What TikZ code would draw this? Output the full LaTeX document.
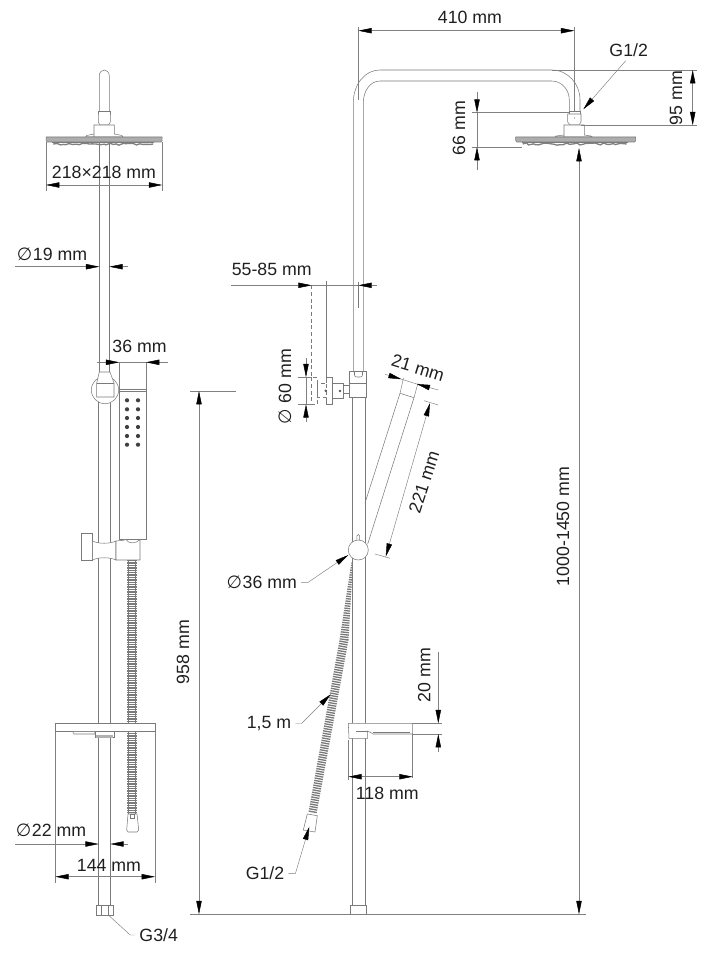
\documentclass[tikz,border=0pt]{standalone}
\usepackage{fontspec}
\setmainfont{Liberation Sans}
\newfontfamily\symfont{DejaVu Sans}
\usetikzlibrary{arrows.meta,decorations.pathmorphing}
\def\dia{{\symfont\char"2205\kern0.5pt}}
\def\rainhead(#1,#2,#3){
	\begin{scope}[shift={(#1,#2)}]
		\draw[part,fill=black!32] (-#3,0) -- (#3,0) -- (#3,3.5) -- (#3-1,5) -- (-#3+1,5) -- (-#3,3.5) -- cycle;
		\draw[nozzle] (-#3+7,7) -- (#3-9,7);
		\draw[thinpart] (-#3+6,5.5) -- (#3-8,5.5);
	\end{scope}
}
\tikzset{
	part/.style={draw=black!52, fill=white, line width=0.4pt},
	thinpart/.style={draw=black!52, line width=0.4pt},
	dimline/.style={draw=black!50, line width=0.35pt},
	dimarrow/.style={dimline, {Triangle[black,length=10pt,width=4pt]}-{Triangle[black,length=10pt,width=4pt]}},
	endarrow/.style={dimline, -{Triangle[black,length=10pt,width=4pt]}},
	lbl/.style={text=black!88, inner sep=3pt, font=\fontsize{13.3}{15}\selectfont},
	nozzle/.style={draw=black!50, line width=1pt, decorate, decoration={random steps,segment length=2.5pt,amplitude=0.9pt}},
	hose/.style={draw=black!52, line width=7pt, dash pattern=on 1pt off 0.8pt},
}
\begin{document}
\begin{tikzpicture}[x=0.75pt,y=-0.75pt]
		\useasboundingbox (0,0) rectangle (715,955);
		%%%%% LEFT VIEW %%%%%
		
		% rail and shower arm
		\draw[part] (99.3,113) -- (99.3,76) .. controls (99.3,72) and (102,70) .. (104.3,70) .. controls (106.6,70) and (109.3,72) .. (109.3,76) -- (109.3,113);
		\draw[part] (98.3,111) rectangle (110.3,114);
		\draw[part] (98.3,114) -- (98.3,122) -- (100,125) -- (108.5,125) -- (110.3,122) -- (110.3,114);
		\draw[part] (94,137) -- (94,125) -- (114.3,125) -- (114.3,134) -- (122,135.5) -- (123,137) -- (85.7,137) -- (86.7,135.5) -- (94,134);
		\draw[thinpart] (99.3,142) -- (99.3,372);
		\draw[thinpart] (109.3,142) -- (109.3,372);
		\rainhead(104.2,137,58)
		\draw[thinpart] (98.5,397) -- (98.5,723);
		\draw[thinpart] (110.7,397) -- (110.7,723);
		\draw[thinpart] (98.7,738) -- (98.7,905.7);
		\draw[thinpart] (110.3,738) -- (110.3,905.7);
		
		% upper holder
		\draw[part] (105,390) circle (13.7);
		\draw[part] (99.3,372) -- (110,372) -- (114,383) -- (114,397) -- (96.7,397) -- (96.7,383) -- cycle;
		\draw[thinpart] (96.7,383) -- (114,383);
		
		% hand shower
		\draw[part] (119.3,389.3) rectangle (146,539);
		\draw[thinpart] (120,391) -- (145.5,391);
		\foreach \dotx in {127,138}
			\foreach \doty in {400.3,409.3,418,427,436,444.7}
				\fill[black!75] (\dotx,\doty) circle (2.1);
		
		% lower holder
		\draw[part] (81,533) rectangle (92.7,560);
		\draw[part] (92.7,541) .. controls (98,544) and (110,544) .. (116,541) -- (116,560) .. controls (110,557) and (98,557) .. (92.7,560) -- cycle;
		\draw[part] (116,541) .. controls (122,540) and (124,541) .. (126,539.5) .. controls (128,544) and (136,544) .. (140,539.5) -- (140,560) -- (116,560) -- cycle;
		
		% hose
		\draw[hose] (132,560) -- (132,814);
		\draw[thinpart] (128.3,560) -- (128.3,814);
		\draw[thinpart] (135.7,560) -- (135.7,814);
		\draw[part] (128,814) -- (137,814) -- (138.7,830) -- (137,832) -- (128,832) -- (126.7,830) -- cycle;
		\draw[part] (130,814) rectangle (134,818);
		
		% shelf and bottom nut
		\draw[part] (55.3,723.3) rectangle (155,731.7);
		\draw[part] (72.7,731.7) -- (95,731.7) -- (95,734) -- (74,734) -- cycle;
		\draw[part] (95,731.7) rectangle (114,737);
		\fill[black!30] (96,735) rectangle (113,738);
		\draw[part] (96.7,905.7) rectangle (113.7,915);
		\draw[thinpart] (101,905.7) -- (101,915);
		\draw[thinpart] (108,905.7) -- (108,915);
		
		% dimensions of the left view
		\draw[dimline] (46,142) -- (46,191);
		\draw[dimline] (162.3,142) -- (162.3,191);
		\draw[dimarrow] (46,185) -- (162.3,185);
		\node[lbl] (labhead) at (104,172) {218×218 mm};
		
		\draw[endarrow] (15,266.7) -- (99.3,266.7);
		\draw[endarrow] (128,266.7) -- (109.3,266.7);
		\node[lbl] (labrail) at (52,254.5) {\dia19 mm};
		
		\draw[dimline] (119.3,362.3) -- (119.3,389);
		\draw[dimline] (146,362.3) -- (146,389);
		\draw[endarrow] (96.7,362.3) -- (119.3,362.3);
		\draw[endarrow] (168,362.3) -- (146,362.3);
		\draw[dimline] (119.3,362.3) -- (146,362.3);
		\node[lbl] (labhand) at (139.5,346.5) {36 mm};
		
		\draw[endarrow] (15,844) -- (98.7,844);
		\draw[endarrow] (128,844) -- (110.3,844);
		\node[lbl] (labtube) at (51,830) {\dia22 mm};
		
		\draw[dimline] (55.3,731.7) -- (55.3,882.7);
		\draw[dimline] (155,731.7) -- (155,882.7);
		\draw[dimarrow] (55.3,876.7) -- (155,876.7);
		\node[lbl] (labshelf) at (109,865) {144 mm};
		
		\node[lbl] (labthread) at (158.7,935) {G3/4};
		\coordinate (threadend) at (108.3,915);
		\draw[dimline] (labthread.west) -- ++(-5,0) -- (threadend);
		
		%%%%% RIGHT VIEW %%%%%
		
		% arm and rail
		\draw[thinpart] (353.3,371.7) -- (353.3,103) .. controls (353.3,84) and (365,70) .. (380,70) -- (551.7,70) .. controls (568,70) and (580,84) .. (580,100) -- (580,111);
		\draw[thinpart] (363.3,371.7) -- (363.3,103) .. controls (363.3,91) and (370,81) .. (380,81) -- (551.7,81) .. controls (562,81) and (569.3,90) .. (569.3,100) -- (569.3,111);
		\draw[part] (569,111) rectangle (580,114);
		\draw[part] (567.7,114) -- (581,114) -- (581,122) -- (579,125) -- (570,125) -- (567.7,122) -- cycle;
		\fill[black!50] (574.5,118) circle (0.6);
		\draw[part] (564,137) -- (564,125) -- (584.3,125) -- (584.3,135) -- (591,136) -- (592.3,137) -- (555,137) -- (556,136) -- (564,135) -- cycle;
		\rainhead(575.7,137,60)
		\draw[thinpart] (352.5,397.3) -- (352.5,723.3);
		\draw[thinpart] (364.8,397.3) -- (364.8,723.3);
		\draw[thinpart] (352.5,738.3) -- (352.5,905);
		\draw[thinpart] (364.8,738.3) -- (364.8,905);
		\draw[part] (350,905) rectangle (366.7,914.3);
		
		% wall mount
		\draw[part] (349.3,371.7) rectangle (366.7,397.3);
		\draw[thinpart] (349.3,383) -- (366.7,383);
		\draw[thinpart] (354.5,371.7) -- (354.5,375) .. controls (354.5,376.5) and (355.5,377) .. (357,377) -- (360,377) .. controls (361.5,377) and (362.5,376.5) .. (362.5,375) -- (362.5,371.7);
		\draw[part] (343.3,385) rectangle (349.3,393.3);
		\draw[part] (332.3,383.3) rectangle (343.3,398.3);
		\draw[part] (326.7,377.3) rectangle (332.3,404.3);
		\draw[part,densely dashed] (317.3,383.3) rectangle (326.7,397.7);
		\draw[part,densely dashed] (311.7,377.3) rectangle (317.3,404.3);
		\fill[black!65] (325.7,390.7) circle (1.4);
		\fill[black!65] (340,391) circle (1.4);
		\draw[thinpart,densely dashed] (311.7,285.3) -- (311.7,377.3);
		\draw[thinpart] (326.3,280.7) -- (326.3,377.3);
		\draw[thinpart] (358.3,281.7) -- (358.3,308);
		
		% hand shower on the ball joint
		\draw[thinpart] (400,393.3) -- (365,503);
		\draw[thinpart] (414,397.7) -- (367.7,544);
		\draw[thinpart] (400,393.3) -- (414,397.7);
		\draw[part] (356.8,541) -- (356.8,536) .. controls (357.5,534) and (359,534) .. (359.7,536) -- (359.7,541);
		\draw[part] (358.3,550) circle (10);
		
		% hose
		\begin{scope}
			\clip (351.5,561.5) -- (353,561.5) -- (348.5,640) -- (316.7,813) -- (308.3,813) -- (339.5,640) -- cycle;
			\draw[hose,line width=12pt] (352.5,560) -- (344,640) -- (312.5,813);
		\end{scope}
		\draw[part] (307.3,814) -- (317.3,815.7) -- (315,832) -- (303.3,830) -- cycle;
		
		% shelf
		\draw[part] (348.3,723.3) -- (412.7,723.3) -- (412.7,734) -- (373.3,734) -- (367.7,731) -- (367.7,738.3) -- (349,738.3) -- cycle;
		\draw[thinpart] (356,731) -- (367.7,731);
		\draw[thinpart] (373.3,732) -- (410,732);
		
		% dimensions of the right view
		\draw[dimline] (358.3,27) -- (358.3,100);
		\draw[dimline] (574.3,27) -- (574.3,111);
		\draw[dimarrow] (358.3,30.7) -- (574.3,30.7);
		\node[lbl] (labreach) at (470,17.3) {410 mm};
		
		\node[lbl] (labfit) at (628.7,50) {G1/2};
		\coordinate (fittip) at (583.3,109.3);
		\draw[endarrow] (labfit.south) ++(-3,0) -- (fittip);
		
		\draw[dimline] (552,70) -- (696.7,70);
		\draw[dimline] (581,125.3) -- (696.7,125.3);
		\draw[dimarrow] (692.7,70) -- (692.7,125.3);
		\node[lbl,rotate=90] (labdrop) at (676,98.3) {95 mm};
		
		\draw[dimline] (471.7,112.7) -- (569,112.7);
		\draw[dimline] (471.7,147) -- (522,147);
		\draw[endarrow] (477,91.7) -- (477,112.7);
		\draw[endarrow] (477,170) -- (477,147);
		\draw[dimline] (477,112.7) -- (477,147);
		\node[lbl,rotate=90] (labhigh) at (459,128.3) {66 mm};
		
		\draw[dimline] (190,914.3) -- (586,914.3);
		\draw[dimline] (190,391) -- (235.7,391);
		\draw[dimarrow] (199,391) -- (199,914.3);
		\node[lbl,rotate=90] (labholder) at (183,652) {958 mm};
		\draw[dimarrow] (579,148) -- (579,914.3);
		\node[lbl,rotate=90] (labtotal) at (563,526.5) {1000-1450 mm};
		
		\draw[endarrow] (231,285.3) -- (311.7,285.3);
		\draw[endarrow] (376.7,285.3) -- (358.3,285.3);
		\draw[dimline] (311.7,285.3) -- (358.3,285.3);
		\node[lbl] (labwall) at (271.7,269) {55-85 mm};
		
		\draw[dimline] (298,377.3) -- (312,377.3);
		\draw[dimline] (298,404.3) -- (312,404.3);
		\draw[endarrow] (306,358) -- (306,377.3);
		\draw[endarrow] (306,422) -- (306,404.3);
		\draw[dimline] (306,377.3) -- (306,404.3);
		\node[lbl,rotate=90] (labplate) at (285,386.7) {\dia\ 60 mm};
		
		\draw[dimline] (400,393.3) -- (403.5,378);
		\draw[dimline] (414,397.7) -- (418,383);
		\draw[endarrow] (385,374.3) -- (401.7,379.3);
		\draw[endarrow] (438.3,390) -- (416.7,384);
		\draw[dimline] (401.7,379.3) -- (416.7,384);
		\node[lbl,rotate=-17] (labwidth) at (418,368) {21 mm};
		
		\draw[dimline] (424,400.7) -- (438.3,405);
		\draw[dimline] (375,554) -- (390,558.3);
		\draw[dimarrow] (430,403) -- (385.7,556.7);
		\node[lbl,rotate=72] (lablength) at (424,481.7) {221 mm};
		
		\node[lbl] (labball) at (261.7,582.3) {\dia36 mm};
		\coordinate (balltip) at (348.3,555);
		\draw[endarrow] (labball.east) -- ++(7,0) -- (balltip);
		
		\node[lbl] (labhose) at (269,723.5) {1,5 m};
		\coordinate (hosetip) at (330.7,694.3);
		\draw[endarrow] (labhose.east) -- ++(6,0) -- (hosetip);
		
		\node[lbl] (labend) at (265,873.3) {G1/2};
		\coordinate (endtip) at (309.3,826.7);
		\draw[endarrow] (labend.east) -- ++(7,0) -- (endtip);
		
		\draw[dimline] (348.3,740) -- (348.3,780);
		\draw[dimline] (412.7,734) -- (412.7,778);
		\draw[dimarrow] (348.3,776.7) -- (412.7,776.7);
		\node[lbl] (labdepth) at (387.3,793.3) {118 mm};
		
		\draw[dimline] (412.7,723.3) -- (442,723.3);
		\draw[dimline] (412.7,734) -- (442,734);
		\draw[endarrow] (438.3,651.7) -- (438.3,723.3);
		\draw[endarrow] (438.3,752.3) -- (438.3,734);
		\node[lbl,rotate=90] (labthick) at (424.3,675) {20 mm};
		
		%%%%% END %%%%%
	\end{tikzpicture}
\end{document}
